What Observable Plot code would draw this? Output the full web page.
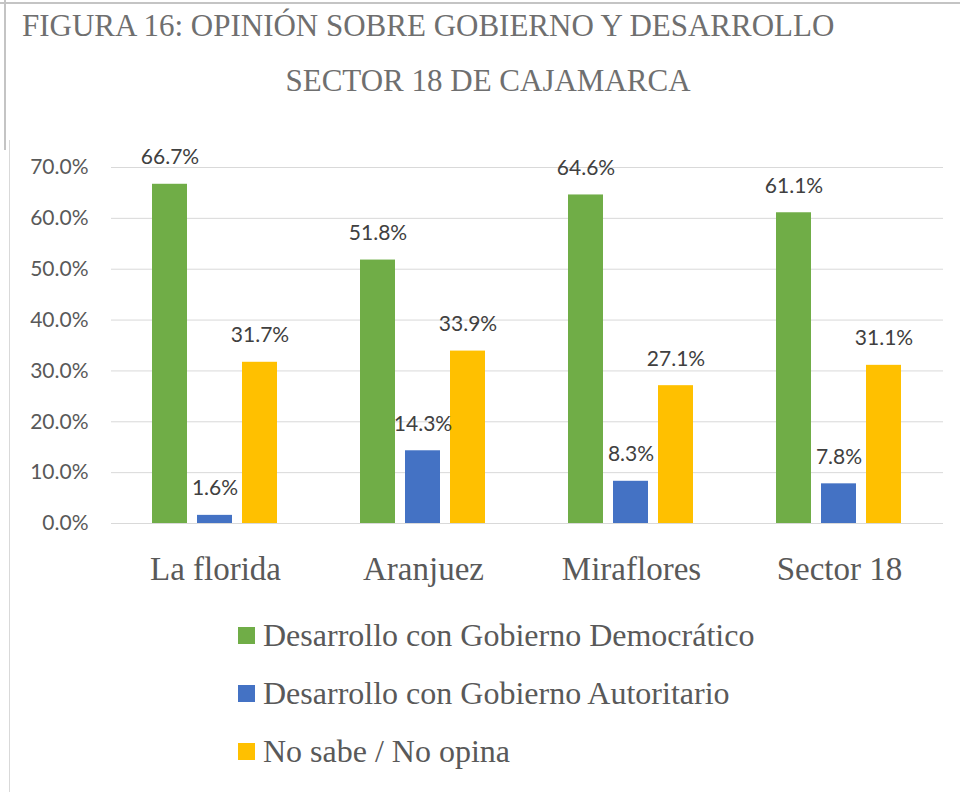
<!DOCTYPE html>
<html>
<head>
<meta charset="utf-8">
<script src="https://cdn.jsdelivr.net/npm/d3@7"></script>
<script src="https://cdn.jsdelivr.net/npm/@observablehq/plot@0.6"></script>
<style>
  html, body { margin: 0; padding: 0; background: #fff; }
  #page { position: relative; width: 960px; height: 792px; overflow: hidden; background: #fff; }
  .line { position: absolute; background: #c4c4c4; }
  .title { position: absolute; font-family: "Liberation Serif", "Times New Roman", serif; font-size: 31px; color: #6f6f6f; white-space: nowrap; line-height: 1; }
  #chart { position: absolute; left: 0; top: 130px; }
  #legend { position: absolute; left: 238px; top: 606px; font-family: "Liberation Serif", "Times New Roman", serif; font-size: 32px; color: #595959; }
  .item { display: flex; align-items: center; height: 58px; white-space: nowrap; }
  .sw { width: 17px; height: 17px; margin-right: 8px; flex: none; }
</style>
</head>
<body>
<div id="page">
  <div class="line" style="left:0;top:2px;width:960px;height:2px;"></div>
  <div class="line" style="left:4px;top:0;width:2px;height:150px;"></div>
  <div class="line" style="left:9px;top:140px;width:1px;height:652px;background:#d9d9d9;"></div>
  <div class="title" id="t1" style="left:22px;top:10px;"></div>
  <div class="title" id="t2" style="left:0;width:976px;text-align:center;top:65px;"></div>
  <div id="chart"></div>
  <div id="legend"></div>
</div>
<script>
const titleLines = ["FIGURA 16: OPINIÓN SOBRE GOBIERNO Y DESARROLLO", "SECTOR 18 DE CAJAMARCA"];
const categories = ["La florida", "Aranjuez", "Miraflores", "Sector 18"];
const series = ["Desarrollo con Gobierno Democrático", "Desarrollo con Gobierno Autoritario", "No sabe / No opina"];
const democratico = [0.667, 0.518, 0.646, 0.611];
const autoritario = [0.016, 0.143, 0.083, 0.078];
const noSabe = [0.317, 0.339, 0.271, 0.311];
const colors = ["#70AD47", "#4472C4", "#FFC000"];
const yTicks = [0, 0.1, 0.2, 0.3, 0.4, 0.5, 0.6, 0.7];

document.getElementById("t1").textContent = titleLines[0];
document.getElementById("t2").textContent = titleLines[1];

const valuesBySeries = [democratico, autoritario, noSabe];
const data = [];
categories.forEach((c, i) => {
  series.forEach((s, j) => {
    data.push({category: c, series: s, value: valuesBySeries[j][i]});
  });
});

const fmt = d3.format(".1%");

const chart = Plot.plot({
  width: 960,
  height: 470,
  marginTop: 37,
  marginBottom: 77,
  marginLeft: 110,
  marginRight: 16,
  style: {background: "transparent"},
  fx: {domain: categories, padding: 0, label: null},
  x: {domain: series, paddingInner: 0.2174, paddingOuter: 0.875, axis: null},
  y: {domain: [0, 0.7], axis: null},
  color: {domain: series, range: colors},
  marks: [
    Plot.gridY(yTicks, {stroke: "#d9d9d9", strokeOpacity: 1, strokeWidth: 1}),
    Plot.axisY({ticks: yTicks, tickFormat: fmt, tickSize: 0, tickPadding: 23, fontSize: 21, fontFamily: "Lato", color: "#595959", label: null}),
    Plot.axisFx({anchor: "bottom", tickSize: 0, tickPadding: 33, fontSize: 33, fontFamily: "Liberation Serif", color: "#595959", label: null}),
    Plot.barY(data, {fx: "category", x: "series", y: "value", fill: "series"}),
    Plot.text(data, {fx: "category", x: "series", y: "value", text: d => fmt(d.value), lineAnchor: "bottom", dy: -20, fontSize: 21, fontFamily: "Lato", fill: "#404040"})
  ]
});
document.getElementById("chart").appendChild(chart);

const legend = document.getElementById("legend");
series.forEach((s, j) => {
  const item = document.createElement("div");
  item.className = "item";
  const sw = document.createElement("span");
  sw.className = "sw";
  sw.style.background = colors[j];
  const label = document.createElement("span");
  label.textContent = s;
  item.appendChild(sw);
  item.appendChild(label);
  legend.appendChild(item);
});
</script>
</body>
</html>
